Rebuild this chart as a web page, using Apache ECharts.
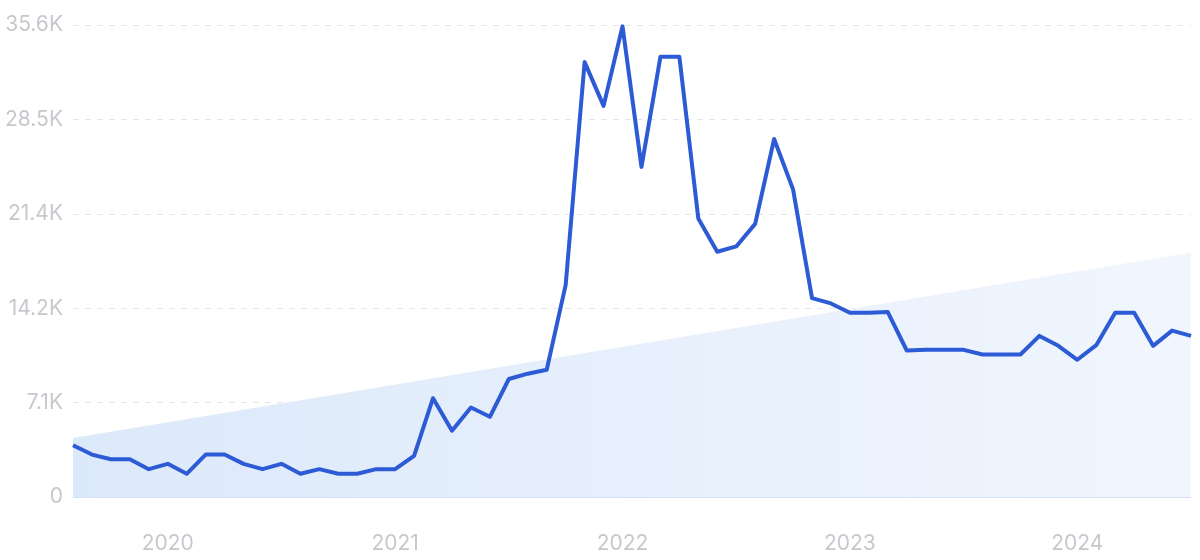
<!DOCTYPE html>
<html>
<head>
<meta charset="utf-8">
<script src="https://cdn.jsdelivr.net/npm/echarts@6/dist/echarts.min.js"></script>
<style>
  html, body { margin: 0; padding: 0; background: #ffffff; }
  #chart { width: 1200px; height: 560px; }
</style>
</head>
<body>
<div id="chart"></div>
<script>
// Monthly categories, Aug 2019 – Jul 2024
const categories = [
  '2019-08','2019-09','2019-10','2019-11','2019-12',
  '2020-01','2020-02','2020-03','2020-04','2020-05','2020-06','2020-07','2020-08','2020-09','2020-10','2020-11','2020-12',
  '2021-01','2021-02','2021-03','2021-04','2021-05','2021-06','2021-07','2021-08','2021-09','2021-10','2021-11','2021-12',
  '2022-01','2022-02','2022-03','2022-04','2022-05','2022-06','2022-07','2022-08','2022-09','2022-10','2022-11','2022-12',
  '2023-01','2023-02','2023-03','2023-04','2023-05','2023-06','2023-07','2023-08','2023-09','2023-10','2023-11','2023-12',
  '2024-01','2024-02','2024-03','2024-04','2024-05','2024-06','2024-07'
];

// Search volume values
const volume = [
  3900, 3200, 2850, 2850, 2100,
  2500, 1750, 3200, 3200, 2500, 2100, 2500, 1750, 2100, 1750, 1750, 2100,
  2100, 3100, 7450, 5000, 6750, 6050, 8900, 9300, 9600, 16000, 32800, 29500,
  35500, 24900, 33200, 33200, 21000, 18500, 18900, 20600, 27000, 23200, 15000, 14600,
  13900, 13900, 13950, 11050, 11100, 11100, 11100, 10750, 10750, 10750, 12150, 11400,
  10350, 11450, 13900, 13900, 11400, 12550, 12150
];

// Trend line end points
const trendStart = ['2019-08', 4450];
const trendEnd = ['2024-07', 18450];

// Y axis ticks
const yMax = 35600;
const yStep = 7120;

function fmtY(v) {
  if (v === 0) return '0';
  return (v / 1000).toFixed(1) + 'K';
}

const chart = echarts.init(document.getElementById('chart'), null, { renderer: 'canvas' });

chart.setOption({
  animation: false,
  backgroundColor: '#ffffff',
  grid: { left: 73, right: 9, top: 25, bottom: 63, containLabel: false },
  xAxis: {
    type: 'category',
    data: categories,
    boundaryGap: false,
    axisLine: { show: true, lineStyle: { color: '#d3e2f6', width: 1 } },
    axisTick: { show: false },
    axisLabel: {
      interval: (i, v) => v.endsWith('-01'),
      formatter: v => v.slice(0, 4),
      color: '#c6c8cd',
      fontFamily: 'Inter',
      fontSize: 21,
      margin: 36
    },
    splitLine: { show: false }
  },
  yAxis: {
    type: 'value',
    min: 0,
    max: yMax,
    interval: yStep,
    axisLine: { show: false },
    axisTick: { show: false },
    axisLabel: {
      formatter: fmtY,
      color: '#c6c8cd',
      fontFamily: 'Inter',
      fontSize: 21,
      margin: 10
    },
    splitLine: { show: true, lineStyle: { color: '#dfe6ef', type: [6, 6], width: 1 } }
  },
  series: [
    {
      name: 'trend',
      type: 'line',
      data: [trendStart, trendEnd],
      symbol: 'none',
      silent: true,
      z: 1,
      lineStyle: { width: 0 },
      areaStyle: {
        opacity: 1,
        color: new echarts.graphic.LinearGradient(0, 0, 1, 0, [
          { offset: 0, color: 'rgba(220,233,250,1)' },
          { offset: 1, color: 'rgba(241,246,254,1)' }
        ])
      }
    },
    {
      name: 'volume',
      type: 'line',
      data: volume,
      symbol: 'none',
      z: 3,
      lineStyle: { color: '#2d5bd6', width: 4, join: 'round' },
      itemStyle: { color: '#2d5bd6' }
    }
  ]
});
</script>
</body>
</html>
